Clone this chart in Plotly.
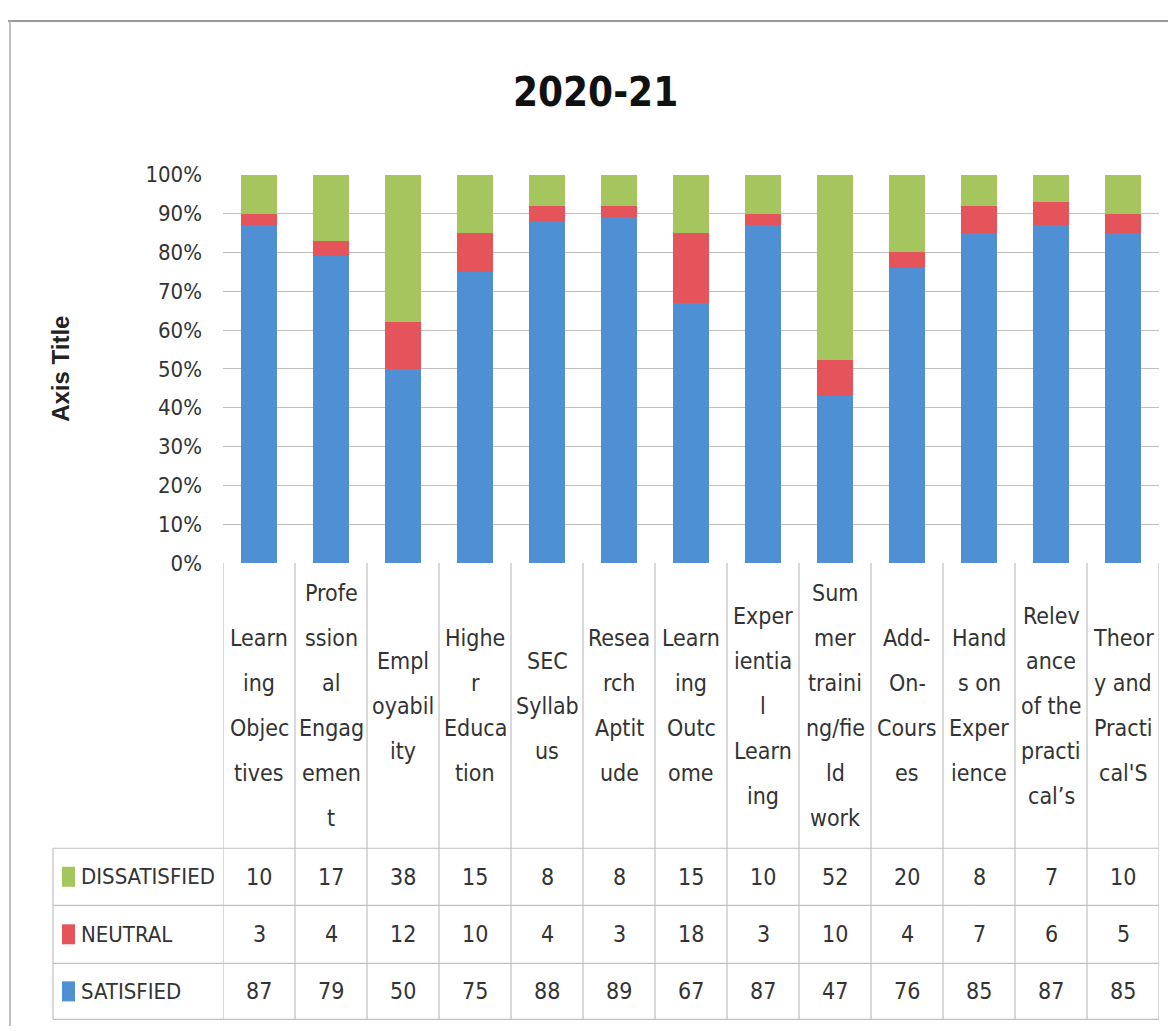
import plotly.graph_objects as go

# ---------------- data ----------------
categories = [
    "Learning Objectives", "Professional Engagement", "Employability",
    "Higher Education", "SEC Syllabus", "Research Aptitude", "Learning Outcome",
    "Experiential Learning", "Summer training/field work", "Add-On-Courses",
    "Hands on Experience", "Relevance of the practical’s", "Theory and Practical'S",
]
category_lines = [
    ["Learn", "ing", "Objec", "tives"],
    ["Profe", "ssion", "al", "Engag", "emen", "t"],
    ["Empl", "oyabil", "ity"],
    ["Highe", "r", "Educa", "tion"],
    ["SEC", "Syllab", "us"],
    ["Resea", "rch", "Aptit", "ude"],
    ["Learn", "ing", "Outc", "ome"],
    ["Exper", "ientia", "l", "Learn", "ing"],
    ["Sum", "mer", "traini", "ng/fie", "ld", "work"],
    ["Add-", "On-", "Cours", "es"],
    ["Hand", "s on", "Exper", "ience"],
    ["Relev", "ance", "of the", "practi", "cal’s"],
    ["Theor", "y and", "Practi", "cal'S"],
]
satisfied = [87, 79, 50, 75, 88, 89, 67, 87, 47, 76, 85, 87, 85]
neutral = [3, 4, 12, 10, 4, 3, 18, 3, 10, 4, 7, 6, 5]
dissatisfied = [10, 17, 38, 15, 8, 8, 15, 10, 52, 20, 8, 7, 10]
series_names = ["DISSATISFIED", "NEUTRAL", "SATISFIED"]
y_ticks = [0, 10, 20, 30, 40, 50, 60, 70, 80, 90, 100]
y_tick_text = ["0%", "10%", "20%", "30%", "40%", "50%", "60%", "70%", "80%", "90%", "100%"]
title_text = "2020-21"
axis_title = "Axis Title"

# ---------------- style ----------------
W, H = 1176, 1031
C_SAT = "#4F8FD3"
C_NEU = "#E5545B"
C_DIS = "#A5C55F"
GRID = "#C0C0C0"
TXT = "#333333"
FONT = "Liberation Sans Narrow, DejaVu Sans Condensed, Arial Narrow, Roboto Condensed, sans-serif"

# target positions (pixels in the final picture)
PLOT_L, PLOT_R, PLOT_T, PLOT_B = 223, 1159, 175, 563
ROW_LINES = [848, 905, 963, 1019]
TABLE_L = 53

# empirical mapping from picture pixels to paper coordinates
X_OFF = 8.0
Y_OFF, Y_SCALE = 20.4, 0.975


def px(x):
    return (x - X_OFF) / W


def py(y):
    yp = (y - Y_OFF) / Y_SCALE
    return min(1.0, max(0.0, 1 - yp / H))


x_idx = list(range(len(categories)))

fig = go.Figure()
fig.add_trace(go.Bar(x=x_idx, y=satisfied, name=series_names[2], marker_color=C_SAT,
                     marker_line_width=0))
fig.add_trace(go.Bar(x=x_idx, y=neutral, name=series_names[1], marker_color=C_NEU,
                     marker_line_width=0))
fig.add_trace(go.Bar(x=x_idx, y=dissatisfied, name=series_names[0], marker_color=C_DIS,
                     marker_line_width=0))

shapes = []
annotations = []

# outer chart border
shapes.append(dict(type="line", xref="paper", yref="paper", x0=0, x1=1, y0=py(18) - 0.001, y1=py(18) - 0.001,
                   line=dict(color="#9A9A9A", width=2)))
shapes.append(dict(type="line", xref="paper", yref="paper", x0=px(10), x1=px(10), y0=py(18), y1=0,
                   line=dict(color="#AAAAAA", width=1.5)))

# table vertical lines (category boundaries)
n = len(categories)
for k in range(n + 1):
    shapes.append(dict(type="line", xref="x", yref="paper", x0=k - 0.5, x1=k - 0.5,
                       y0=py(PLOT_B), y1=py(ROW_LINES[-1]), line=dict(color=GRID, width=1.2)))
# legend column left line
shapes.append(dict(type="line", xref="paper", yref="paper", x0=px(TABLE_L), x1=px(TABLE_L),
                   y0=py(ROW_LINES[0]), y1=py(ROW_LINES[-1]), line=dict(color=GRID, width=1.2)))
# horizontal table lines
for yl in ROW_LINES:
    shapes.append(dict(type="line", xref="paper", yref="paper", x0=px(TABLE_L), x1=px(PLOT_R),
                       y0=py(yl), y1=py(yl), line=dict(color=GRID, width=1.2)))

# category labels (one annotation per wrapped line)
LINE_H = 45
mid = (PLOT_B + ROW_LINES[0]) / 2
for i, lines in enumerate(category_lines):
    m = len(lines)
    for j, ln in enumerate(lines):
        yc = mid + (j - (m - 1) / 2) * LINE_H
        annotations.append(dict(x=i, y=py(yc), xref="x", yref="paper", text=ln, showarrow=False,
                                xanchor="center", yanchor="middle",
                                font=dict(family=FONT, size=23, color=TXT)))

# data rows
rows = [(series_names[0], dissatisfied, C_DIS), (series_names[1], neutral, C_NEU),
        (series_names[2], satisfied, C_SAT)]
for r, (name, vals, col) in enumerate(rows):
    yc = (ROW_LINES[r] + ROW_LINES[r + 1]) / 2
    shapes.append(dict(type="rect", xref="paper", yref="paper", x0=px(62), x1=px(75),
                       y0=py(yc - 10), y1=py(yc + 10), fillcolor=col, line_width=0))
    annotations.append(dict(x=px(79), y=py(yc), xref="paper", yref="paper", text=name,
                            showarrow=False, xanchor="left", yanchor="middle",
                            font=dict(family=FONT, size=22, color=TXT)))
    for i, v in enumerate(vals):
        annotations.append(dict(x=i, y=py(yc), xref="x", yref="paper", text=str(v),
                                showarrow=False, xanchor="center", yanchor="middle",
                                font=dict(family=FONT, size=23, color=TXT)))

# title & axis title
annotations.append(dict(x=px(595), y=py(92), xref="paper", yref="paper", text="<b>%s</b>" % title_text,
                        showarrow=False, xanchor="center", yanchor="middle",
                        font=dict(family=FONT, size=40, color="#111111")))
annotations.append(dict(x=px(61), y=py(369), xref="paper", yref="paper", text="<b>%s</b>" % axis_title,
                        showarrow=False, xanchor="center", yanchor="middle", textangle=-90,
                        font=dict(family="Liberation Sans, Arial, sans-serif", size=24, color="#222222")))

fig.update_layout(
    width=W, height=H,
    margin=dict(l=0, r=0, t=0, b=0),
    paper_bgcolor="white", plot_bgcolor="white",
    barmode="stack", barnorm="percent", bargap=0.5,
    showlegend=False,
    shapes=shapes, annotations=annotations,
    xaxis=dict(domain=[px(PLOT_L), px(PLOT_R)], range=[-0.5, n - 0.5], showticklabels=False,
               showgrid=False, zeroline=False, showline=False, ticks="", fixedrange=True),
    yaxis=dict(domain=[py(PLOT_B), py(PLOT_T)], range=[0, 100], tickmode="array",
               tickvals=y_ticks, ticktext=y_tick_text,
               showgrid=True, gridcolor=GRID, gridwidth=1.2, zeroline=False, showline=False,
               ticks="", ticklabelstandoff=20,
               tickfont=dict(family=FONT, size=22, color=TXT), fixedrange=True),
)

fig.write_html("out.html")
